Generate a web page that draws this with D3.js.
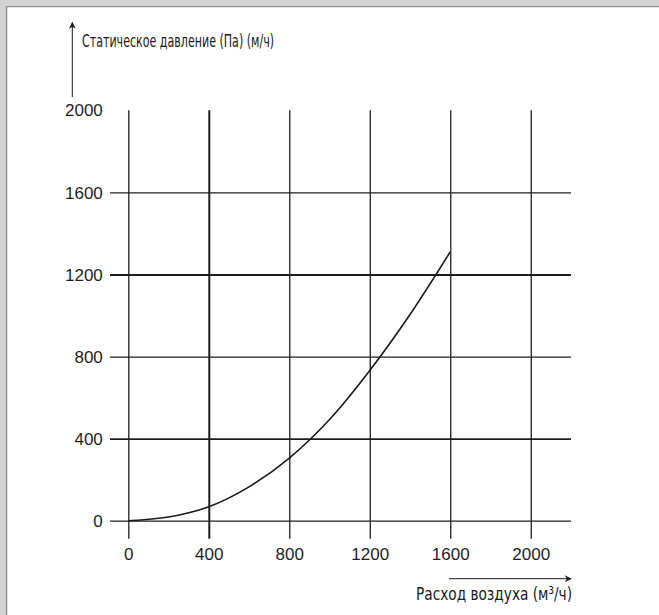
<!DOCTYPE html>
<html>
<head>
<meta charset="utf-8">
<script src="https://cdn.jsdelivr.net/npm/d3@7"></script>
<style>
  body { margin: 0; background: #fff; }
  svg { display: block; }
</style>
</head>
<body>
<script>
const w = 659;
const h = 615;

// data
const flow = [0, 200, 400, 600, 800, 1000, 1200, 1400, 1600];
const pressure = [0, 18, 68, 165, 305, 493, 732, 1005, 1310];
const xTicks = [0, 400, 800, 1200, 1600, 2000];
const yTicks = [0, 400, 800, 1200, 1600, 2000];
const yTitle = "Статическое давление (Па) (м/ч)";
const xTitle = "Расход воздуха (м³/ч)";

const xScale = d3.scaleLinear()
  .domain([0, 2200])
  .range([128.3, 571]);

const yScale = d3.scaleLinear()
  .domain([0, 2000])
  .range([520.7, 110.3]);

const svg = d3.select("body")
  .append("svg")
  .attr("width", w)
  .attr("height", h);

// FRAME (grey band top and left)
svg.append("rect").attr("x", 0).attr("y", 0).attr("width", w).attr("height", 7).attr("fill", "#d3d3d3");
svg.append("rect").attr("x", 0).attr("y", 0).attr("width", 7).attr("height", h).attr("fill", "#d3d3d3");
svg.append("path")
  .attr("d", `M${w},6.6H6.6V${h}`)
  .attr("fill", "none")
  .attr("stroke", "#8f8f8f")
  .attr("stroke-width", 1.4);

// thicker looking lines in the scan
const heavy = v => (v === 400 ? 2 : 1.3);
const heavyY = v => (v === 1200 ? 2 : v === 400 ? 1.7 : 1.3);

const labelFont = "'Liberation Sans', Arial, sans-serif";
const fmt = d3.format("d");

// GRID + AXES
const xAxis = svg.append("g")
  .attr("transform", `translate(0, ${yScale(0)})`)
  .call(
    d3.axisBottom(xScale)
      .tickValues(xTicks)
      .tickFormat(fmt)
      .tickSizeOuter(0)
  );
xAxis.select(".domain").remove();
xAxis.selectAll(".tick line")
  .attr("y2", -(yScale(0) - yScale(2000)))
  .attr("y1", 18)
  .attr("stroke", "#1e1e1e")
  .attr("stroke-width", d => heavy(d));
xAxis.selectAll(".tick text")
  .attr("y", 39.6)
  .attr("dy", null)
  .attr("font-family", labelFont)
  .attr("font-size", 17)
  .attr("fill", "#1e1e1e");

const yAxis = svg.append("g")
  .attr("transform", `translate(${xScale(0)}, 0)`)
  .call(
    d3.axisLeft(yScale)
      .tickValues(yTicks.filter(v => v !== 2000))
      .tickFormat(fmt)
      .tickSizeOuter(0)
  );
yAxis.select(".domain").remove();
yAxis.selectAll(".tick line")
  .attr("x1", -18.3)
  .attr("x2", xScale(2200) - xScale(0))
  .attr("stroke", "#1e1e1e")
  .attr("stroke-width", d => heavyY(d));
yAxis.selectAll(".tick text")
  .attr("x", -25.5)
  .attr("dy", "0.33em")
  .attr("font-family", labelFont)
  .attr("font-size", 17)
  .attr("fill", "#1e1e1e");

// top label 2000 sits at the end of the vertical lines
svg.append("text")
  .attr("x", xScale(0) - 25.5)
  .attr("y", yScale(2000))
  .attr("dy", "0.33em")
  .attr("text-anchor", "end")
  .attr("font-family", labelFont)
  .attr("font-size", 17)
  .attr("fill", "#1e1e1e")
  .text(fmt(yTicks[yTicks.length - 1]));

// CURVE
const line = d3.line()
  .x((d, i) => xScale(flow[i]))
  .y(d => yScale(d))
  .curve(d3.curveMonotoneX);

svg.append("path")
  .datum(pressure)
  .attr("d", line)
  .attr("fill", "none")
  .attr("stroke", "#1a1a1a")
  .attr("stroke-width", 1.6);

// ARROWS
svg.append("defs").append("marker")
  .attr("id", "arrow")
  .attr("viewBox", "0 0 10 10")
  .attr("refX", 9)
  .attr("refY", 5)
  .attr("markerWidth", 10)
  .attr("markerHeight", 7)
  .attr("markerUnits", "userSpaceOnUse")
  .attr("orient", "auto")
  .append("path")
  .attr("d", "M0,0L10,5L0,10L3,5Z")
  .attr("fill", "#1a1a1a");

svg.append("line")
  .attr("x1", 72.3).attr("y1", 97)
  .attr("x2", 72.3).attr("y2", 22.5)
  .attr("stroke", "#1a1a1a")
  .attr("stroke-width", 1)
  .attr("marker-end", "url(#arrow)");

svg.append("line")
  .attr("x1", 449).attr("y1", 578.7)
  .attr("x2", 571).attr("y2", 578.7)
  .attr("stroke", "#1a1a1a")
  .attr("stroke-width", 1)
  .attr("marker-end", "url(#arrow)");

// TITLES
const condensed = "'Liberation Sans Narrow', 'DejaVu Sans Condensed', 'Liberation Sans', sans-serif";

svg.append("text")
  .attr("x", 82)
  .attr("y", 46.7)
  .attr("font-family", condensed)
  .attr("font-size", 18.5)
  .attr("fill", "#1a1a1a")
  .attr("textLength", 192)
  .attr("lengthAdjust", "spacingAndGlyphs")
  .text(yTitle);

svg.append("text")
  .attr("x", 416)
  .attr("y", 600)
  .attr("font-family", condensed)
  .attr("font-size", 18.5)
  .attr("fill", "#1a1a1a")
  .attr("textLength", 156)
  .attr("lengthAdjust", "spacingAndGlyphs")
  .text(xTitle);
</script>
</body>
</html>
